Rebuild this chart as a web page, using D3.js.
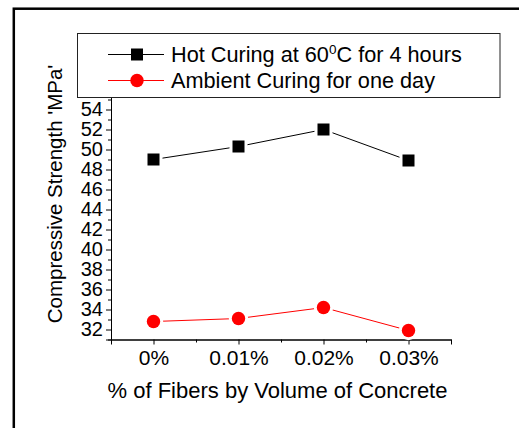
<!doctype html>
<meta charset="utf-8">
<title>Compressive Strength</title>
<style>
  body { margin: 0; background: #fff; }
  svg { display: block; font-family: Arial, "Liberation Sans", sans-serif; }
  .axis path, .axis line { stroke: #000; stroke-width: 1; }
  .axis text { fill: #000; font-size: 21px; font-family: Arial, "Liberation Sans", sans-serif; }
  .axis.y text { font-size: 20px; }
</style>
<svg id="chart" width="519" height="428"></svg>
<script src="https://cdn.jsdelivr.net/npm/d3@7/dist/d3.min.js"></script>
<script>

// fibre dosages along the x axis
var fiberLabels = ["0%", "0.01%", "0.02%", "0.03%"];

// compressive strength (MPa) for each dosage
var hotCuring = [49.0, 50.3, 52.0, 48.9];
var ambientCuring = [32.8, 33.1, 34.2, 31.9];

// y axis ticks
var yMajorTicks = [32, 34, 36, 38, 40, 42, 44, 46, 48, 50, 52, 54];
var yMinorTicks = [33, 35, 37, 39, 41, 43, 45, 47, 49, 51, 53, 55];

var seriesNames = ["Hot Curing at 60", "Ambient Curing for one day"];

var svg = d3.select("#chart");

// outer frame (runs off the right and bottom edges)
svg.append("rect")
  .attr("x", 13.8).attr("y", 8.7)
  .attr("width", 700).attr("height", 700)
  .attr("fill", "none")
  .attr("stroke", "#000")
  .attr("stroke-width", 2.5);

var x = d3.scaleLinear().domain([-0.5, 3.5]).range([111, 451]);
var y = d3.scaleLinear().domain([31, 60]).range([339.5, 49.5]);

// y axis: minor ticks first, then labelled majors
svg.append("g")
  .attr("class", "axis y")
  .attr("transform", "translate(111,0)")
  .call(d3.axisLeft(y).tickValues(yMinorTicks).tickSize(3).tickFormat(""));

svg.append("g")
  .attr("class", "axis y")
  .attr("transform", "translate(111,0)")
  .call(d3.axisLeft(y).tickValues(yMajorTicks).tickSize(5).tickPadding(3).tickFormat(d3.format("d")));

// x axis
svg.append("g")
  .attr("class", "axis")
  .attr("transform", "translate(0,339.5)")
  .call(d3.axisBottom(x).tickValues([-0.5, 0.5, 1.5, 2.5, 3.5]).tickSize(3).tickFormat(""));

svg.append("g")
  .attr("class", "axis")
  .attr("transform", "translate(0,339.5)")
  .call(d3.axisBottom(x).tickValues(d3.range(fiberLabels.length)).tickSize(5).tickPadding(6)
    .tickFormat(function(i) { return fiberLabels[i]; }));

svg.selectAll(".axis .domain").attr("stroke-width", 1.2);

// axis titles
svg.append("text")
  .attr("transform", "translate(62,194) rotate(-90)")
  .attr("text-anchor", "middle")
  .attr("font-size", "20.5px")
  .text("Compressive Strength 'MPa'");

svg.append("text")
  .attr("x", 277.5).attr("y", 398)
  .attr("text-anchor", "middle")
  .attr("font-size", "22px")
  .text("% of Fibers by Volume of Concrete");

var line = d3.line()
  .x(function(d, i) { return x(i); })
  .y(function(d) { return y(d); });

// hot curing series
svg.append("path")
  .datum(hotCuring)
  .attr("d", line)
  .attr("fill", "none")
  .attr("stroke", "#000")
  .attr("stroke-width", 1);

svg.selectAll(".sq")
  .data(hotCuring)
  .enter()
  .append("rect")
  .attr("class", "sq")
  .attr("x", function(d, i) { return x(i) - 6; })
  .attr("y", function(d) { return y(d) - 6; })
  .attr("width", 12).attr("height", 12)
  .attr("fill", "#000")
  .attr("stroke", "#fff")
  .attr("stroke-width", 6)
  .style("paint-order", "stroke");

// ambient curing series
svg.append("path")
  .datum(ambientCuring)
  .attr("d", line)
  .attr("fill", "none")
  .attr("stroke", "#f00")
  .attr("stroke-width", 1);

svg.selectAll(".dot")
  .data(ambientCuring)
  .enter()
  .append("circle")
  .attr("class", "dot")
  .attr("cx", function(d, i) { return x(i); })
  .attr("cy", function(d) { return y(d); })
  .attr("r", 6.7)
  .attr("fill", "#f00")
  .attr("stroke", "#fff")
  .attr("stroke-width", 6)
  .style("paint-order", "stroke");

// legend box covers the top of the y axis
var legend = svg.append("g");

legend.append("rect")
  .attr("x", 77.5).attr("y", 33.5)
  .attr("width", 422.5).attr("height", 64)
  .attr("fill", "#fff")
  .attr("stroke", "#222")
  .attr("stroke-width", 1);

var rows = [
  {y: 54.5, color: "#000", shape: "square"},
  {y: 80.5, color: "#f00", shape: "circle"}
];

rows.forEach(function(r, i) {
  legend.append("line")
    .attr("x1", 108).attr("x2", 164)
    .attr("y1", r.y).attr("y2", r.y)
    .attr("stroke", r.color)
    .attr("stroke-width", 1);
  if (r.shape === "square") {
    legend.append("rect")
      .attr("x", 131).attr("y", r.y - 6)
      .attr("width", 12).attr("height", 12)
      .attr("fill", r.color);
  } else {
    legend.append("circle")
      .attr("cx", 137).attr("cy", r.y)
      .attr("r", 6.7)
      .attr("fill", r.color);
  }
});

var t1 = legend.append("text")
  .attr("x", 171).attr("y", 61.5)
  .attr("font-size", "21.7px");
t1.append("tspan").text(seriesNames[0]);
t1.append("tspan").attr("dy", -8).attr("font-size", "13.5px").text("0");
t1.append("tspan").attr("dy", 8).text("C for 4 hours");

legend.append("text")
  .attr("x", 171).attr("y", 87.5)
  .attr("font-size", "21.7px")
  .text(seriesNames[1]);

</script>
